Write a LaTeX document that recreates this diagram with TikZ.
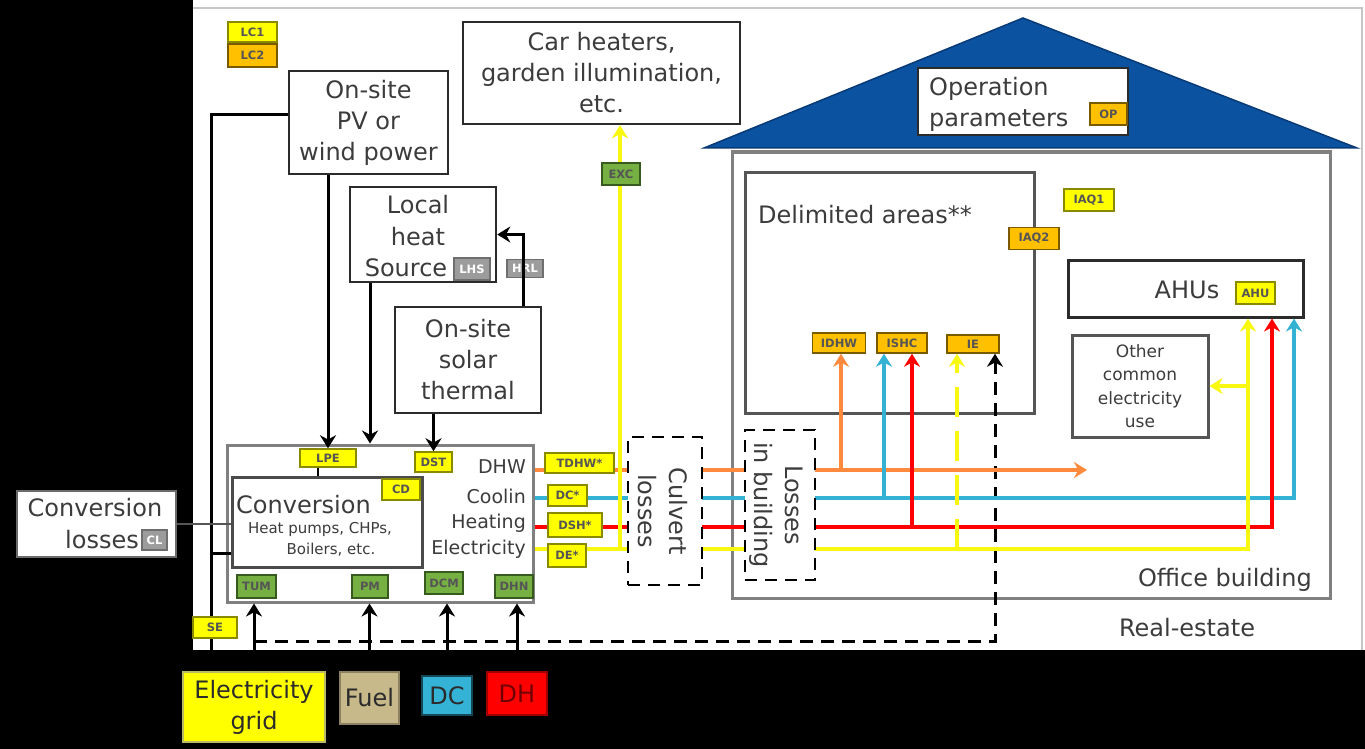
\documentclass[tikz,border=0pt]{standalone}
\usepackage{fontspec}
\setmainfont{DejaVu Sans}
\usetikzlibrary{arrows.meta}
\definecolor{dk}{HTML}{2B2B2B}
\definecolor{tx}{HTML}{3C3C3C}
\definecolor{gb}{HTML}{808080}
\definecolor{yl}{HTML}{FFFF00}
\definecolor{yld}{HTML}{8A8A00}
\definecolor{og}{HTML}{FFC000}
\definecolor{ogd}{HTML}{7A5A00}
\definecolor{gn}{HTML}{76B043}
\definecolor{gnd}{HTML}{375A1F}
\definecolor{gy}{HTML}{9C9C9C}
\definecolor{gyd}{HTML}{6E6E6E}
\definecolor{fo}{HTML}{FF8A3D}
\definecolor{fb}{HTML}{33B2D3}
\definecolor{fr}{HTML}{FF0000}
\definecolor{fy}{HTML}{F8F810}
\definecolor{roof}{HTML}{0B52A0}
\definecolor{roofd}{HTML}{083A78}
\definecolor{fuelc}{HTML}{C8B98A}
\definecolor{dcc}{HTML}{35B3D6}
\definecolor{dhd}{HTML}{A00000}
\begin{document}
\begin{tikzpicture}[x=1pt,y=-1pt,
  box/.style={draw=dk, line width=2.5pt, fill=white, inner sep=0pt, text=tx,
    font=\fontsize{24}{31}\selectfont, align=center},
  gbox/.style={draw=gb, line width=3pt, fill=white, inner sep=0pt},
  dbox/.style={draw=black, line width=2.5pt, dash pattern=on 12pt off 8pt, fill=white, inner sep=0pt},
  txt/.style={text=tx, font=\fontsize{24}{31}\selectfont, align=center, inner sep=0pt},
  stxt/.style={text=tx, font=\fontsize{19}{26}\selectfont, inner sep=0pt},
  tag/.style={line width=1.5pt, inner sep=0pt, font=\fontsize{11.5}{11.5}\selectfont\bfseries, text=dk!80},
  ty/.style={tag, fill=yl, draw=yld},
  to/.style={tag, fill=og, draw=ogd},
  tg/.style={tag, fill=gn, draw=gnd},
  tgy/.style={tag, fill=gy, draw=gyd, text=white},
  arr/.style={draw=black, line width=3pt, -{Stealth[length=13pt,width=16pt]}},
  kline/.style={draw=black, line width=3pt},
  fl/.style={line width=4pt, -{Stealth[length=13pt,width=16pt]}},
  ofl/.style={fl, draw=fo, color=fo},
  bfl/.style={fl, draw=fb, color=fb},
  rfl/.style={fl, draw=fr, color=fr},
  yfl/.style={fl, draw=fy, color=fy},
  botbox/.style={inner sep=0pt, line width=2pt, font=\fontsize{24}{31}\selectfont, align=center, text=dk}
]
\useasboundingbox (0,0) rectangle (1365,749);
\fill[black] (0,0) rectangle (1365,749);
\fill[white] (193,0) rectangle (1365,650);
\draw[gray!45, line width=2pt] (193,8) -- (1362,8) -- (1362,650);

% roof and office
\fill[roof, draw=roofd, line width=1.5pt] (704,148) -- (1023,18) -- (1357,148) -- cycle;
\node[gbox, minimum width=598, minimum height=446] (office) at (1031,375) {};
\node[box, minimum width=210, minimum height=67] (opp) at (1023,101.5) {};
\node[txt, anchor=west, align=left] (opptxt) at (929,104) {Operation\\parameters};
\node[to, minimum width=37, minimum height=22] (op) at (1108.5,114) {OP};

\node[box, draw=dk!80, line width=3pt, minimum width=289, minimum height=241] (delim) at (889.5,292.5) {};
\node[txt, anchor=west] (delimtxt) at (758,215) {Delimited areas**};
\node[box, line width=3pt, minimum width=235, minimum height=57] (ahus) at (1185.5,288.5) {};
\node[txt] (ahustxt) at (1187,290) {AHUs};
\node[ty, minimum width=39, minimum height=22] (ahu) at (1255.5,293) {AHU};
\node[box, draw=dk!80, line width=3pt, minimum width=136, minimum height=102,
  font=\fontsize{17}{23.5}\selectfont] (other) at (1140,386) {Other\\common\\electricity\\use};
\node[txt, anchor=east] (offtxt) at (1312,580) {Office building};
\node[txt] (retxt) at (1187,628) {Real-estate};

% left side boxes
\node[box, minimum width=159, minimum height=103] (pv) at (368.5,122.5) {On-site\\PV or\\wind power};
\node[box, minimum width=277, minimum height=102] (car) at (601.5,73) {Car heaters,\\garden illumination,\\etc.};
\node[box, minimum width=146, minimum height=95] (lhs) at (423,234.5) {};
\node[txt] (lhs1) at (418,205) {Local};
\node[txt] (lhs2) at (418,237) {heat};
\node[txt] (lhs3) at (406,268) {Source};
\node[tgy, minimum width=36, minimum height=22] (lhstag) at (472,269) {LHS};
\node[box, minimum width=146, minimum height=106] (sol) at (468,360) {On-site\\solar\\thermal};
\node[gbox, minimum width=306, minimum height=157] (outer) at (380,523.5) {};
\node[box, draw=dk!85, line width=3pt, minimum width=190, minimum height=90] (conv) at (327,522) {};
\node[txt, anchor=west] (convtxt) at (236,505) {Conversion};
\node[text=tx, font=\fontsize{15}{15}\selectfont, inner sep=0pt] (convs1) at (320,529) {Heat pumps, CHPs,};
\node[text=tx, font=\fontsize{15}{15}\selectfont, inner sep=0pt] (convs2) at (331,550) {Boilers, etc.};
\node[stxt, anchor=east] (dhwt) at (526,467) {DHW};
\node[stxt, anchor=east] (coolt) at (526,496) {Coolin};
\node[stxt, anchor=east] (heatt) at (526,523) {Heating};
\node[stxt, anchor=east] (elect) at (526,549) {Electricity};
\node[box, draw=dk!70, minimum width=159, minimum height=66] (closs) at (96.5,524) {};
\node[txt] (closs1) at (95,508) {Conversion};
\node[txt, anchor=east] (closs2) at (139,540) {losses};
\node[tgy, minimum width=25, minimum height=20] (cl) at (154.5,540) {CL};

% bottom sources
\node[botbox, fill=yl, draw=yld!60, minimum width=142, minimum height=70] (grid) at (254,707) {Electricity\\grid};
\node[botbox, fill=fuelc, draw=fuelc!70!black, minimum width=59, minimum height=52] (fuel) at (369.5,698) {Fuel};
\node[botbox, fill=dcc, draw=dcc!40!black, minimum width=50, minimum height=39] (dcb) at (447,695.5) {DC};
\node[botbox, fill=fr, draw=dhd, text=dhd!70!black, minimum width=60, minimum height=43] (dhb) at (517,693.5) {DH};

% target tags (under arrow tips)
\node[ty, minimum width=56, minimum height=18] (lpe) at (328,458) {LPE};
\node[ty, minimum width=37, minimum height=20] (dst) at (433.5,462) {DST};
\node[ty, minimum width=38, minimum height=21] (cd) at (401,489.5) {CD};
\node[to, minimum width=53, minimum height=20] (idhw) at (839,343) {IDHW};
\node[to, minimum width=50, minimum height=20] (ishc) at (902,343) {ISHC};
\node[to, minimum width=52, minimum height=18] (ie) at (973,344) {IE};
\node[to, minimum width=50, minimum height=22] (iaq2) at (1034,238.5) {IAQ2};
\node[ty, minimum width=50, minimum height=22] (iaq1) at (1089,200) {IAQ1};
\node[tgy, minimum width=36, minimum height=18] (hrl) at (525,268.5) {HRL};
\node[tg, minimum width=39, minimum height=23] (tum) at (256.5,586.5) {TUM};
\node[tg, minimum width=36, minimum height=23] (pm) at (370,586.5) {PM};
\node[tg, minimum width=38, minimum height=22] (dcm) at (444,583) {DCM};
\node[tg, minimum width=38, minimum height=23] (dhn) at (514,586.5) {DHN};
\node[ty, minimum width=49, minimum height=20] (lc1) at (252.5,32) {LC1};
\node[to, minimum width=49, minimum height=23] (lc2) at (252.5,55.5) {LC2};

% coordinates
\coordinate (yo) at (0,470);
\coordinate (yb) at (0,498);
\coordinate (yr) at (0,527);
\coordinate (yy) at (0,549);
\coordinate (xo) at (841,0);
\coordinate (xb1) at (884,0);
\coordinate (xr1) at (912,0);
\coordinate (xy1) at (957,0);
\coordinate (xyA) at (1248,0);
\coordinate (xrA) at (1272,0);
\coordinate (xbA) at (1294,0);
\coordinate (xyc) at (620,0);
\coordinate (xe) at (211,0);
\coordinate (ybr) at (0,553);
\coordinate (oend) at (1087,470);
\coordinate (kc) at (995,641);
\coordinate (lhsx) at (370,0);
\coordinate (lpex) at (318,0);

% black connectors
\draw[arr] (pv.south -| lpe.north) -- (lpe.north);
\draw[arr] (lhsx |- lhs.south) -- (lhsx |- outer.north);
\draw[arr] (dst.north |- sol.south) -- (dst.north);
\draw[arr] ([xshift=55pt]sol.north) |- (lhs.east);
\draw[kline, line width=2pt] (lpex |- lpe.south) -- (lpex |- conv.north);
\draw[kline] ([yshift=7.5pt]pv.west) -| (xe |- grid.north);
\draw[kline] (xe |- ybr) -- (conv.west |- ybr);
\draw[draw=dk!80, line width=1.5pt] (closs.east) -- (conv.west |- closs.east);
\draw[arr] (grid.north) -- (grid.north |- outer.south);
\draw[arr] (fuel.north) -- (fuel.north |- outer.south);
\draw[arr] (dcb.north) -- (dcb.north |- outer.south);
\draw[arr] (dhb.north) -- (dhb.north |- outer.south);
\draw[arr, dash pattern=on 13pt off 8pt] (grid.north |- kc) -- (kc) -- (kc |- ie.south);

% colored flows
\draw[ofl] (outer.east |- yo) -- (oend);
\draw[ofl] (xo |- yo) -- (xo |- idhw.south);
\draw[bfl] (outer.east |- yb) -| (xbA |- ahus.south);
\draw[bfl] (xb1 |- yb) -- (xb1 |- ishc.south);
\draw[rfl] (outer.east |- yr) -| (xrA |- ahus.south);
\draw[rfl] (xr1 |- yr) -- (xr1 |- ishc.south);
\draw[yfl] (outer.east |- yy) -| (xyA |- ahus.south);
\draw[yfl] (xyc |- yy) -- (xyc |- car.south);
\draw[yfl, dash pattern=on 30pt off 14pt] (xy1 |- yy) -- (xy1 |- ie.south);
\draw[yfl] (xyA |- other.east) -- (other.east);

% loss boxes
\node[dbox, minimum width=74, minimum height=148] (culv) at (665,511) {};
\node[txt, rotate=-90] (culvtxt) at (663,511) {Culvert\\losses};
\node[dbox, minimum width=70, minimum height=150] (lib) at (780,505) {};
\node[txt, rotate=-90] (libtxt) at (776,505) {Losses\\in building};

% overlay tags
\node[ty, minimum width=69, minimum height=20] (tdhw) at (579.5,463) {TDHW*};
\node[ty, minimum width=39, minimum height=21] (dcs) at (567.5,495.5) {DC*};
\node[ty, minimum width=54, minimum height=24] (dsh) at (575,525) {DSH*};
\node[ty, minimum width=38, minimum height=23] (des) at (567,555.5) {DE*};
\node[tg, minimum width=38, minimum height=22] (exc) at (621,174) {EXC};
\node[ty, minimum width=44, minimum height=21] (se) at (215,627.5) {SE};
\end{tikzpicture}
\end{document}
